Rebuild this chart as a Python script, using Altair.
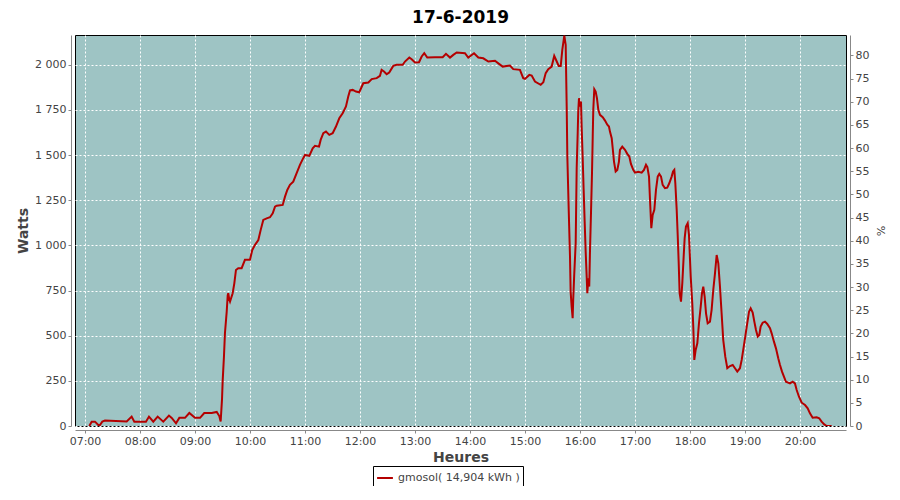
import altair as alt
import pandas as pd

# Time of day in minutes since midnight, and power in Watts
minutes = [
    424.7, 427.3, 430.9, 435.6, 438.9, 441.8, 465.5, 470.9, 473.8, 486.5,
    489.8, 494.5, 499.3, 505.4, 511.6, 514.6, 519.3, 522.9, 529.1, 533.8,
    540.0, 545.5, 550.1, 558.2, 563.7, 566.5, 568.0, 569.5, 570.2, 571.6,
    572.7, 574.6, 575.7, 576.3, 577.4, 578.2, 581.1, 582.9, 584.7, 587.2,
    590.9, 594.5, 600.0, 602.5, 605.5, 609.1, 611.7, 614.5, 618.2, 621.8,
    624.8, 627.3, 629.1, 635.7, 638.2, 640.7, 643.6, 647.2, 650.9, 654.5,
    658.1, 660.0, 664.7, 668.4, 670.9, 675.3, 677.1, 680.0, 682.9, 686.5,
    690.2, 693.8, 697.4, 701.1, 704.7, 707.2, 709.1, 712.0, 715.6, 719.2,
    723.6, 729.1, 732.8, 738.2, 741.8, 743.6, 746.2, 749.1, 751.9, 756.3,
    760.0, 766.6, 769.1, 773.8, 776.4, 780.0, 784.4, 787.3, 790.1, 793.4,
    801.8, 810.2, 813.8, 818.2, 821.8, 825.5, 834.5, 838.1, 844.4, 849.1,
    854.5, 860.0, 867.3, 870.9, 875.7, 883.6, 887.2, 894.5, 898.1, 900.0,
    904.7, 907.3, 910.9, 917.1, 920.0, 922.6, 925.4, 929.1, 931.9, 933.8,
    936.8, 939.0, 940.7, 942.9, 944.4, 945.5, 946.2, 947.7, 949.1, 949.8,
    950.9, 952.0, 952.6, 953.7, 955.3, 956.4, 957.5, 958.1, 958.9, 960.0,
    961.1, 961.8, 962.9, 964.0, 965.1, 966.2, 967.3, 968.0, 969.1, 970.1,
    970.9, 972.0, 973.1, 973.9, 974.5, 975.6, 977.1, 978.5, 980.0, 981.8,
    984.8, 987.3, 989.8, 991.6, 992.7, 994.6, 995.7, 997.1, 998.9, 1000.7,
    1002.5, 1003.6, 1006.1, 1009.1, 1011.6, 1013.8, 1015.6, 1018.1, 1020.0, 1023.6,
    1027.3, 1029.8, 1032.0, 1033.5, 1035.3, 1036.4, 1037.8, 1039.3, 1041.1, 1042.9,
    1044.8, 1046.5, 1048.4, 1050.2, 1052.7, 1055.2, 1057.4, 1060.0, 1061.5, 1062.9,
    1064.0, 1065.5, 1066.6, 1067.7, 1068.7, 1070.2, 1071.6, 1073.1, 1074.2, 1075.6,
    1077.5, 1078.9, 1080.8, 1082.5, 1083.6, 1084.7, 1086.2, 1088.0, 1089.8, 1091.7,
    1093.1, 1094.5, 1096.0, 1097.5, 1099.3, 1101.8, 1103.6, 1105.4, 1107.3, 1109.1,
    1110.9, 1112.7, 1114.5, 1116.3, 1118.5, 1120.7, 1123.6, 1126.6, 1129.1, 1131.6,
    1134.5, 1136.4, 1138.1, 1140.3, 1142.2, 1144.4, 1146.2, 1148.4, 1150.2, 1152.0,
    1153.9, 1155.6, 1157.1, 1159.3, 1161.8, 1164.3, 1167.3, 1169.1, 1171.6, 1173.8,
    1176.3, 1178.2, 1180.4, 1182.5, 1184.7, 1189.1, 1192.0, 1194.5, 1196.4, 1198.9,
    1201.9, 1205.5, 1208.4, 1210.9, 1213.8, 1218.2, 1221.0, 1223.6, 1226.5, 1229.1,
    1234.6,
]
watts = [
    0, 24, 24, 0, 24, 30, 25, 52, 24, 24,
    52, 24, 52, 24, 58, 45, 15, 45, 45, 72,
    45, 45, 72, 72, 78, 55, 25, 150, 250, 385,
    515, 633, 725, 735, 700, 689, 735, 790, 864, 874,
    874, 920, 920, 975, 1003, 1030, 1086, 1141, 1150, 1156,
    1178, 1215, 1220, 1224, 1270, 1307, 1335, 1353, 1400, 1446,
    1483, 1501, 1496, 1538, 1551, 1547, 1584, 1621, 1630, 1612,
    1621, 1658, 1704, 1732, 1769, 1824, 1858, 1861, 1852, 1848,
    1898, 1902, 1921, 1926, 1939, 1972, 1963, 1948, 1957, 1994,
    2000, 2000, 2018, 2040, 2031, 2013, 2014, 2046, 2064, 2040,
    2042, 2042, 2061, 2040, 2055, 2068, 2064, 2040, 2064, 2040,
    2036, 2018, 2022, 2008, 1990, 1996, 1976, 1972, 1926, 1922,
    1944, 1940, 1907, 1889, 1904, 1954, 1976, 1990, 2050, 2028,
    1994, 1994, 2083, 2161, 2111, 1769, 1492, 1197, 938, 744,
    661, 597, 698, 837, 1012, 1428, 1621, 1741, 1815, 1769,
    1797, 1658, 1492, 1307, 1132, 966, 827, 735, 818, 772,
    966, 1178, 1400, 1603, 1751, 1865, 1852, 1815, 1751, 1723,
    1710, 1691, 1668, 1658, 1630, 1594, 1538, 1464, 1409, 1418,
    1464, 1529, 1547, 1529, 1507, 1492, 1451, 1418, 1403, 1407,
    1403, 1418, 1446, 1433, 1381, 1252, 1095, 1169, 1197, 1307,
    1381, 1396, 1381, 1335, 1317, 1320, 1344, 1381, 1409, 1418,
    1344, 1197, 1058, 901, 735, 689, 790, 938, 1040, 1104,
    1123, 1058, 827, 680, 550, 366, 421, 458, 569, 661,
    735, 772, 716, 624, 569, 578, 643, 753, 846, 947,
    901, 772, 624, 476, 384, 320, 332, 338, 320, 301,
    320, 366, 421, 495, 560, 633, 652, 628, 578, 532,
    495, 504, 550, 572, 578, 565, 541, 513, 467, 430,
    375, 338, 301, 273, 245, 236, 245, 236, 199, 162,
    129, 116, 98, 70, 46, 48, 43, 24, 9, 0,
    0,
]
series_label = "gmosol( 14,904 kWh )"
hour_ticks = [420, 480, 540, 600, 660, 720, 780, 840, 900, 960, 1020, 1080, 1140, 1200]
watt_ticks = [0, 250, 500, 750, 1000, 1250, 1500, 1750, 2000]
pct_ticks = [0, 5, 10, 15, 20, 25, 30, 35, 40, 45, 50, 55, 60, 65, 70, 75, 80]

df = pd.DataFrame({"t": minutes, "w": watts, "s": series_label})
pct_df = pd.DataFrame({"p": pct_ticks})

FONT = "DejaVu Sans"

line = alt.Chart(df).mark_line(strokeWidth=2, clip=True).encode(
    x=alt.X(
        "t:Q",
        scale=alt.Scale(domain=[409.1, 1250.2], nice=False, zero=False),
        axis=alt.Axis(
            values=hour_ticks,
            labelExpr="(datum.value < 600 ? '0' : '') + floor(datum.value / 60) + ':00'",
            title="Heures",
            offset=4,
            tickSize=3,
            labelPadding=2,
            titlePadding=4,
        ),
    ),
    y=alt.Y(
        "w:Q",
        scale=alt.Scale(domain=[0, 2165], nice=False),
        axis=alt.Axis(
            values=watt_ticks,
            labelExpr="replace(format(datum.value, ',d'), ',', ' ')",
            title="Watts",
            offset=4,
            tickSize=3,
            labelPadding=2,
            titlePadding=4,
        ),
    ),
    color=alt.Color(
        "s:N",
        scale=alt.Scale(range=["#b40000"]),
        legend=alt.Legend(
            title=None,
            orient="none",
            legendX=298,
            legendY=431,
            symbolType="stroke",
            symbolStrokeWidth=2,
            symbolSize=250,
            labelFont=FONT,
            labelFontSize=11,
            labelColor="#444444",
            strokeColor="black",
            fillColor="white",
            padding=3,
            cornerRadius=0,
        ),
    ),
)

pct = alt.Chart(pct_df).mark_tick(opacity=0).encode(
    y=alt.Y(
        "p:Q",
        scale=alt.Scale(domain=[0, 84.4], nice=False),
        axis=alt.Axis(
            orient="right",
            values=pct_ticks,
            title="%",
            titleFontWeight="normal",
            titleFontSize=11,
            offset=4,
            tickSize=3,
            labelPadding=2,
            grid=False,
            titlePadding=6,
        ),
    ),
)

chart = (
    alt.layer(line, pct)
    .resolve_scale(y="independent")
    .properties(
        width=771,
        height=391,
        autosize=alt.AutoSizeParams(type="none"),
        padding={"left": 67, "top": 27, "right": 46, "bottom": 60},
        title=alt.Title(
            "17-6-2019",
            font=FONT,
            fontSize=17,
            fontWeight="bold",
            color="black",
            offset=8,
        ),
    )
    .configure_view(fill="#9ec4c4", stroke="black", strokeWidth=1)
    .configure_axis(
        gridColor="white",
        gridDash=[2, 2],
        gridWidth=1,
        gridOpacity=1,
        domainColor="#888888",
        tickColor="#888888",
        labelFont=FONT,
        labelFontSize=11,
        labelColor="#444444",
        titleFont=FONT,
        titleFontSize=14,
        titleFontWeight="bold",
        titleColor="#444444",
    )
)

chart.save("out.html", embed_options={"renderer": "svg", "actions": False})
